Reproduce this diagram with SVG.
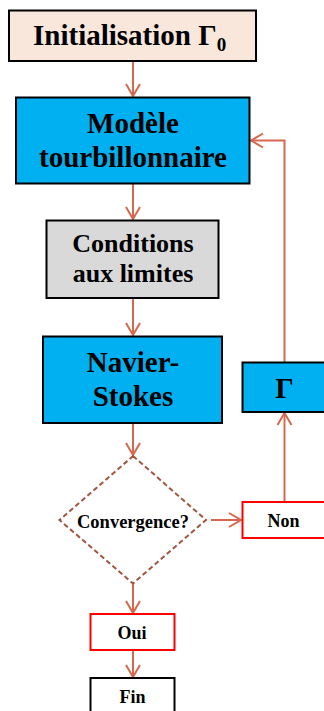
<svg xmlns="http://www.w3.org/2000/svg" width="324" height="711" viewBox="0 0 324 711">
<defs>
<style>
text{font-family:"Liberation Serif","Times New Roman",serif;font-weight:bold;fill:#000;text-anchor:middle}
.box{stroke:#000;stroke-width:2}
.red{fill:#fff;stroke:#FF0000;stroke-width:2}
.conn{fill:none;stroke:#D5694F;stroke-width:2}
.big{font-size:29px}
.mid{font-size:26px}
.small{font-size:18px}
</style>
<marker id="arr" markerUnits="userSpaceOnUse" markerWidth="20" markerHeight="20" viewBox="-14 -10 16 20" refX="0" refY="0" orient="auto">
<path d="M-12,-7 L0,0 L-12,7" fill="none" stroke="#D5694F" stroke-width="2"/>
</marker>
</defs>
<rect width="324" height="711" fill="#fff"/>
<g id="connectors">
<line class="conn" x1="133" y1="61" x2="133" y2="96" marker-end="url(#arr)"/>
<line class="conn" x1="133" y1="184" x2="133" y2="219" marker-end="url(#arr)"/>
<line class="conn" x1="133" y1="298" x2="133" y2="335" marker-end="url(#arr)"/>
<line class="conn" x1="133" y1="423" x2="133" y2="455" marker-end="url(#arr)"/>
<line class="conn" x1="211" y1="520" x2="241" y2="520" marker-end="url(#arr)"/>
<line class="conn" x1="284.5" y1="501" x2="284.5" y2="413" marker-end="url(#arr)"/>
<polyline class="conn" points="284.5,362 284.5,140.5 251,140.5" marker-end="url(#arr)"/>
<line class="conn" x1="133" y1="584" x2="133" y2="613" marker-end="url(#arr)"/>
<line class="conn" x1="133" y1="651" x2="133" y2="677" marker-end="url(#arr)"/>
</g>
<g id="init">
<rect class="box" x="9" y="10.5" width="247" height="50.5" fill="#F8E7DA"/>
<text class="big" x="33" y="45" style="text-anchor:start">Initialisation Γ<tspan font-size="19" dy="6">0</tspan></text>
</g>
<g id="modele">
<rect class="box" x="16" y="97.5" width="233.5" height="86" fill="#00B0F0"/>
<text class="big" x="133" y="133">Modèle</text>
<text class="big" x="133" y="167">tourbillonnaire</text>
</g>
<g id="conditions">
<rect class="box" x="46.5" y="220.5" width="172" height="77.5" fill="#D9D9D9"/>
<text class="mid" x="133" y="252">Conditions</text>
<text class="mid" x="133" y="282">aux limites</text>
</g>
<g id="navier">
<rect class="box" x="43" y="336.5" width="179" height="86.5" fill="#00B0F0"/>
<text class="big" x="133" y="372">Navier-</text>
<text class="big" x="133" y="406">Stokes</text>
</g>
<g id="gamma">
<rect class="box" x="242.5" y="362.5" width="90" height="49.5" fill="#00B0F0"/>
<text class="big" x="284.5" y="398">Γ</text>
</g>
<g id="convergence">
<polygon points="133,456 206,520 133,583.5 59.5,520" fill="#fff" stroke="#A3543F" stroke-width="2" stroke-dasharray="5,3"/>
<text x="133" y="527.5" style="font-size:18.5px">Convergence?</text>
</g>
<g id="non">
<rect class="red" x="242.5" y="502" width="90" height="36"/>
<text class="small" x="283.5" y="527">Non</text>
</g>
<g id="oui">
<rect class="red" x="90.5" y="614" width="84" height="36"/>
<text class="small" x="132" y="638.5">Oui</text>
</g>
<g id="fin">
<rect class="box" x="90.5" y="678" width="84" height="40" fill="#fff"/>
<text class="small" x="132.5" y="702.5">Fin</text>
</g>
</svg>
